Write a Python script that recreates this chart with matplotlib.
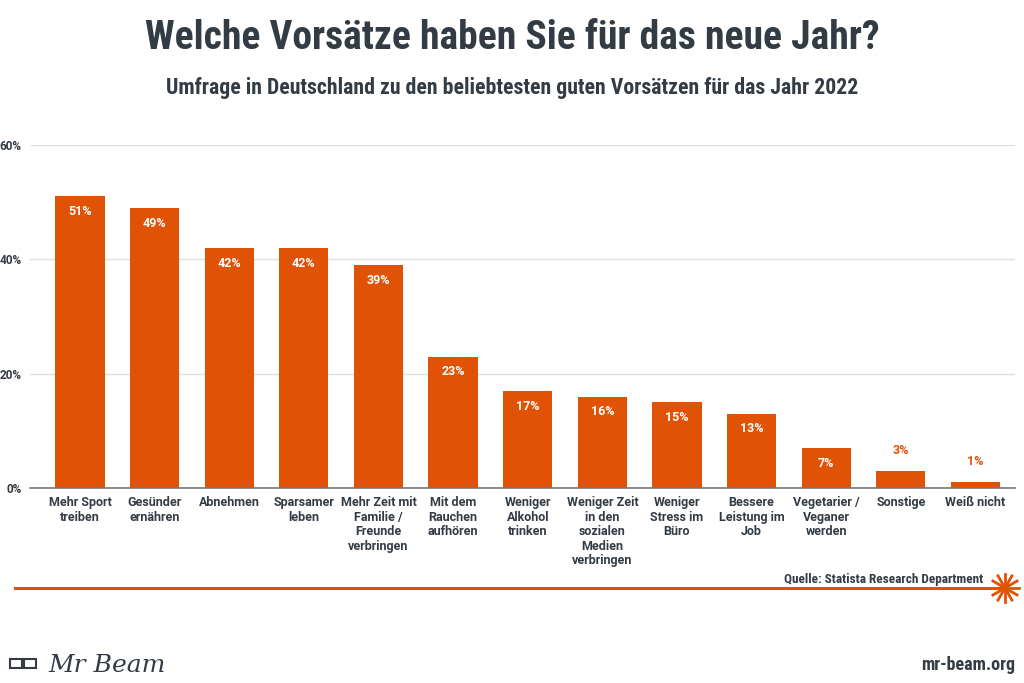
import matplotlib
matplotlib.use("Agg")
import matplotlib.pyplot as plt
from matplotlib import font_manager as fm
import numpy as np

categories = ["Mehr Sport\ntreiben", "Gesünder\nernähren", "Abnehmen", "Sparsamer\nleben",
              "Mehr Zeit mit\nFamilie /\nFreunde\nverbringen", "Mit dem\nRauchen\naufhören",
              "Weniger\nAlkohol\ntrinken", "Weniger Zeit\nin den\nsozialen\nMedien\nverbringen",
              "Weniger\nStress im\nBüro", "Bessere\nLeistung im\nJob", "Vegetarier /\nVeganer\nwerden",
              "Sonstige", "Weiß nicht"]
values = [51, 49, 42, 42, 39, 23, 17, 16, 15, 13, 7, 3, 1]
yticks = [0, 20, 40, 60]
ytick_labels = ["0%", "20%", "40%", "60%"]

title = "Welche Vorsätze haben Sie für das neue Jahr?"
subtitle = "Umfrage in Deutschland zu den beliebtesten guten Vorsätzen für das Jahr 2022"
source = "Quelle: Statista Research Department"

ORANGE = "#e05206"
DARK = "#333b44"

names = {f.name for f in fm.fontManager.ttflist}
cond_candidates = ["Roboto Condensed", "Liberation Sans Narrow", "Roboto"]
cond = next((c for c in cond_candidates if c in names), "DejaVu Sans")
body = "Roboto" if "Roboto" in names else "DejaVu Sans"

fig = plt.figure(figsize=(10.24, 6.83), dpi=100)
W, H = 1024, 683
ax = fig.add_axes([30 / W, 1 - 488 / H, (1015 - 30) / W, (488 - 145) / H])

x = np.arange(len(categories))
ax.bar(x, values, width=0.66, color=ORANGE, zorder=3)
ax.set_xlim(-0.67, len(categories) - 0.47)
ax.set_ylim(0, 60)
ax.set_yticks(yticks)
ax.set_yticklabels(ytick_labels, fontsize=8.5, fontweight="bold", color=DARK,
                   family=body, fontstretch="normal")
ax.yaxis.grid(True, color="#e0e0e0", linewidth=1, zorder=0)
ax.tick_params(axis="y", length=0, pad=6)
ax.tick_params(axis="x", length=0, pad=6)
ax.set_xticks(x)
ax.set_xticklabels(categories, fontsize=9, fontweight="bold", color=DARK, family=body,
                   fontstretch="normal", va="top", linespacing=1.15)
for s in ["top", "right", "left"]:
    ax.spines[s].set_visible(False)
ax.spines["bottom"].set_color("#777777")
ax.spines["bottom"].set_linewidth(1.2)
ax.spines["bottom"].set_zorder(4)

for xi, v in zip(x, values):
    if v >= 5:
        ax.annotate(f"{v}%", (xi, v), xytext=(0, -11), textcoords="offset points",
                    ha="center", va="center", color="white", fontsize=9,
                    fontweight="bold", family=body, fontstretch="normal", zorder=5)
    else:
        ax.annotate(f"{v}%", (xi, v), xytext=(0, 15), textcoords="offset points",
                    ha="center", va="center", color=ORANGE, fontsize=9,
                    fontweight="bold", family=body, fontstretch="normal", zorder=5)

fig.text(0.5, 1 - 38 / H, title, ha="center", va="center", fontsize=28.5,
         fontweight="bold", color=DARK, family=cond, fontstretch="condensed")
fig.text(0.5, 1 - 88 / H, subtitle, ha="center", va="center", fontsize=15.7,
         fontweight="bold", color=DARK, family=cond, fontstretch="condensed")

# source line
fig.add_artist(plt.Line2D([15 / W, 1005 / W], [1 - 588 / H, 1 - 588 / H],
                          color=ORANGE, linewidth=2.2, transform=fig.transFigure))
cx, cy = 1005 / W, 1 - 588 / H
for ang in np.linspace(0, np.pi, 6, endpoint=False):
    dx = 14 * np.cos(ang) / W
    dy = 14 * np.sin(ang) / H
    fig.add_artist(plt.Line2D([cx - dx, cx + dx], [cy - dy, cy + dy], color=ORANGE,
                              linewidth=2, transform=fig.transFigure))
fig.text(983 / W, 1 - 579 / H, source, ha="right", va="center", fontsize=9.5,
         fontweight="bold", color=DARK, family=cond, fontstretch="condensed")

fig.text(1015 / W, 1 - 665 / H, "mr-beam.org", ha="right", va="center", fontsize=13,
         fontweight="bold", color=DARK, family=cond, fontstretch="condensed")
fig.text(48 / W, 1 - 665 / H, "Mr Beam", ha="left", va="center", fontsize=18,
         style="italic", color=DARK, family="DejaVu Serif")
# glasses icon
gx, gy = 10 / W, 1 - 660 / H
for off in (0, 14):
    fig.add_artist(plt.Rectangle((gx + off / W, gy - 8 / H), 12 / W, 9 / H, fill=False,
                                 edgecolor=DARK, linewidth=1.5, transform=fig.transFigure))

fig.savefig("out.png", dpi=100, facecolor="white")
